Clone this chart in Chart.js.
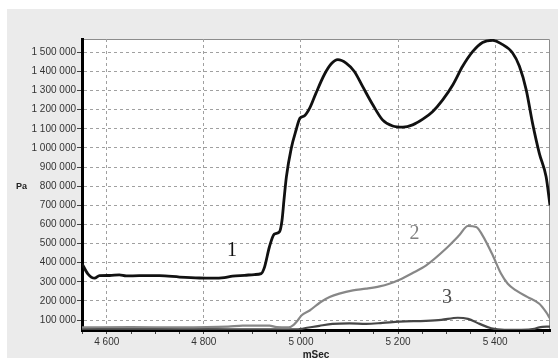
<!DOCTYPE html>
<html>
<head>
<meta charset="utf-8">
<script src="https://cdn.jsdelivr.net/npm/chart.js@4.4.1/dist/chart.umd.min.js"></script>
<style>
  html, body { margin: 0; padding: 0; background: #fff; }
</style>
</head>
<body>
<canvas id="pressureChart" width="558" height="358"></canvas>
<script>
// curve 1 (black)
const curve1Ms = [4549, 4561, 4575, 4585, 4606, 4626, 4640, 4667, 4709, 4750, 4791, 4818, 4842, 4859, 4884, 4904, 4918, 4925, 4935, 4945, 4956, 4961, 4965, 4970, 4980, 4990, 4998, 5007, 5018, 5031, 5048, 5062, 5076, 5093, 5110, 5127, 5148, 5168, 5189, 5210, 5230, 5251, 5271, 5292, 5313, 5333, 5354, 5374, 5395, 5412, 5436, 5450, 5464, 5477, 5491, 5505, 5513];
const curve1Pa = [395000, 342000, 319000, 332000, 333000, 336000, 331000, 332000, 332000, 325000, 320000, 319000, 322000, 330000, 334000, 338000, 343000, 377000, 482000, 549000, 563000, 622000, 727000, 849000, 998000, 1094000, 1156000, 1168000, 1208000, 1287000, 1383000, 1439000, 1462000, 1444000, 1400000, 1322000, 1226000, 1147000, 1115000, 1109000, 1121000, 1151000, 1190000, 1252000, 1331000, 1427000, 1505000, 1552000, 1563000, 1546000, 1497000, 1427000, 1304000, 1130000, 972000, 849000, 700000];

// curve 2 (gray)
const curve2Ms = [4549, 4650, 4750, 4850, 4880, 4935, 4950, 4975, 4985, 4993, 5001, 5018, 5040, 5059, 5079, 5107, 5134, 5162, 5182, 5203, 5230, 5258, 5299, 5326, 5344, 5361, 5374, 5395, 5412, 5426, 5443, 5467, 5491, 5505, 5513];
const curve2Pa = [62000, 63000, 62000, 66000, 71000, 71000, 63000, 62000, 75000, 97000, 124000, 150000, 193000, 220000, 238000, 255000, 264000, 276000, 290000, 311000, 346000, 386000, 474000, 543000, 592000, 587000, 543000, 439000, 343000, 290000, 255000, 220000, 185000, 141000, 108000];

// curve 3 (dark gray)
const curve3Ms = [4549, 4700, 4850, 4990, 5005, 5038, 5065, 5100, 5134, 5168, 5203, 5257, 5289, 5323, 5344, 5368, 5392, 5419, 5454, 5481, 5491, 5513];
const curve3Pa = [53000, 53000, 52000, 51000, 56000, 70000, 80000, 83000, 80000, 85000, 92000, 96000, 101000, 112000, 106000, 80000, 57000, 49000, 49000, 54000, 62000, 66000];

const xMajorTicks = [4600, 4800, 5000, 5200, 5400];
const yTicks = [100000, 200000, 300000, 400000, 500000, 600000, 700000, 800000, 900000, 1000000, 1100000, 1200000, 1300000, 1400000, 1500000];

const curveLabels = ['1', '2', '3'];
const curveLabelMs = [4858, 5234, 5301];
const curveLabelPa = [461000, 552000, 217000];
const curveLabelColors = ['#111', '#808080', '#4a4a4a'];

const xMin = 4549, xMax = 5513;
const yMin = 48000, yMax = 1570000;

const xMinorTicks = [];
for (let v = 4550; v <= 5500; v += 50) xMinorTicks.push(v);

function spaced(v) {
    return String(v).replace(/\B(?=(\d{3})+(?!\d))/g, ' ');
}

function toPoints(xs, ys) {
    return xs.map((x, i) => ({x: x, y: ys[i]}));
}

const frame = {
    id: 'frame',
    beforeDraw(chart) {
        const c = chart.ctx;
        const a = chart.chartArea;
        c.save();
        c.fillStyle = '#ffffff';
        c.fillRect(0, 0, chart.width, chart.height);
        c.fillStyle = '#ebebeb';
        c.fillRect(7, 9, chart.width - 7, chart.height - 9);
        c.fillStyle = '#ffffff';
        c.fillRect(a.left, a.top, a.right - a.left, a.bottom - a.top);
        c.strokeStyle = '#8c8c8c';
        c.lineWidth = 1;
        c.beginPath();
        c.moveTo(a.left, a.top + 0.5);
        c.lineTo(a.right - 0.5, a.top + 0.5);
        c.lineTo(a.right - 0.5, a.bottom);
        c.stroke();
        c.restore();
    }
};

const texts = {
    id: 'texts',
    afterDatasetsDraw(chart) {
        const c = chart.ctx;
        const xs = chart.scales.x, ys = chart.scales.y;
        c.save();
        c.font = '20px "Liberation Serif"';
        c.textAlign = 'center';
        c.textBaseline = 'middle';
        curveLabels.forEach((t, i) => {
            c.fillStyle = curveLabelColors[i];
            c.fillText(t, xs.getPixelForValue(curveLabelMs[i]), ys.getPixelForValue(curveLabelPa[i]));
        });
        c.font = 'bold 9px "Liberation Sans"';
        c.textAlign = 'left';
        c.fillStyle = '#222';
        c.fillText('Pa', 16, ys.getPixelForValue(800000));
        c.restore();
    }
};

const tickFont = {family: 'Liberation Sans', size: 10};

new Chart(document.getElementById('pressureChart').getContext('2d'), {
    type: 'line',
    data: {
        datasets: [
            {
                label: '1',
                data: toPoints(curve1Ms, curve1Pa),
                borderColor: '#111111',
                borderWidth: 2.8,
                pointRadius: 0,
                cubicInterpolationMode: 'monotone'
            },
            {
                label: '2',
                data: toPoints(curve2Ms, curve2Pa),
                borderColor: '#878787',
                borderWidth: 2.2,
                pointRadius: 0,
                cubicInterpolationMode: 'monotone'
            },
            {
                label: '3',
                data: toPoints(curve3Ms, curve3Pa),
                borderColor: '#474747',
                borderWidth: 2.2,
                pointRadius: 0,
                cubicInterpolationMode: 'monotone'
            }
        ]
    },
    options: {
        responsive: false,
        animation: false,
        layout: {
            padding: {left: 0, top: 39, right: 8, bottom: 0}
        },
        plugins: {
            legend: {display: false},
            tooltip: {enabled: false}
        },
        scales: {
            x: {
                type: 'linear',
                min: xMin,
                max: xMax,
                afterBuildTicks: scale => { scale.ticks = xMinorTicks.map(v => ({value: v})); },
                afterFit: scale => { scale.height = 28; },
                ticks: {
                    autoSkip: false,
                    maxRotation: 0,
                    padding: 2,
                    font: tickFont,
                    color: '#333',
                    callback: v => xMajorTicks.includes(v) ? spaced(v) : ''
                },
                grid: {
                    color: ctx => (ctx.tick && xMajorTicks.includes(ctx.tick.value)) ? '#a0a0a0' : 'rgba(0,0,0,0)',
                    tickColor: '#444',
                    tickLength: 4
                },
                border: {color: '#000', width: 3, dash: [3, 3]},
                title: {
                    display: true,
                    text: 'mSec',
                    color: '#222',
                    font: {family: 'Liberation Sans', size: 10, weight: 'bold'},
                    padding: {top: 0, bottom: -3}
                }
            },
            y: {
                type: 'linear',
                min: yMin,
                max: yMax,
                afterBuildTicks: scale => { scale.ticks = yTicks.map(v => ({value: v})); },
                afterFit: scale => { scale.width = 82; },
                ticks: {
                    padding: 1,
                    font: tickFont,
                    color: '#333',
                    callback: v => spaced(v)
                },
                grid: {
                    color: '#a0a0a0',
                    tickColor: '#444',
                    tickLength: 5
                },
                border: {color: '#000', width: 3, dash: [3, 3]}
            }
        }
    },
    plugins: [frame, texts]
});
</script>
</body>
</html>
